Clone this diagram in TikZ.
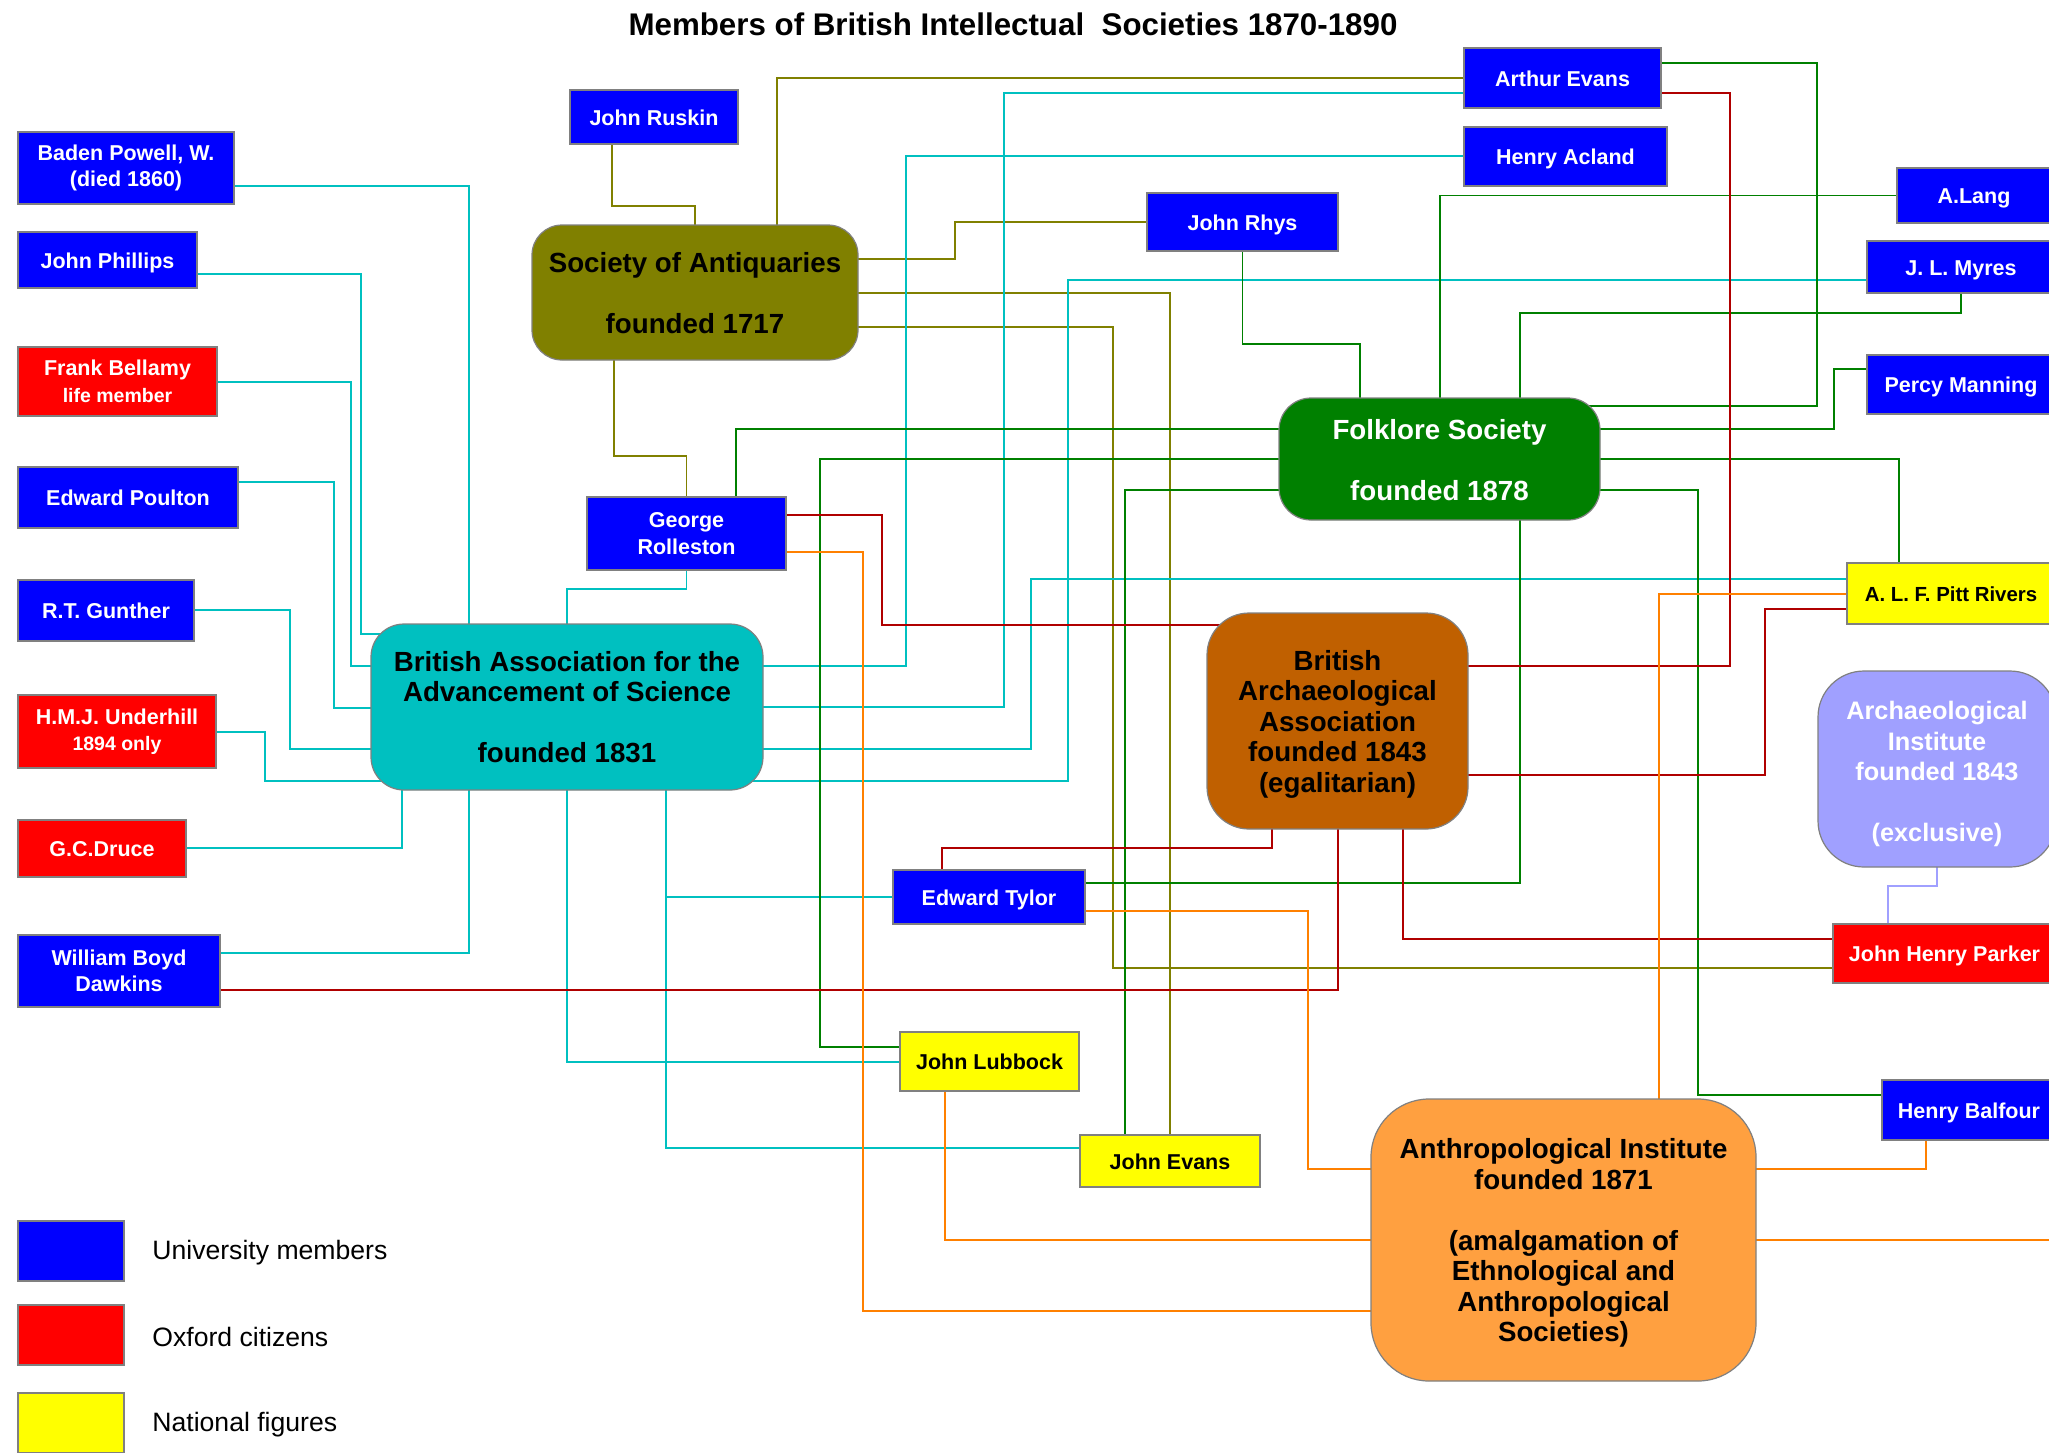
\documentclass[tikz,border=0pt]{standalone}
\usepackage{fontspec}
\setmainfont{Liberation Sans}
\usetikzlibrary{backgrounds}
\definecolor{cBlue}{RGB}{0,0,255}
\definecolor{cRed}{RGB}{255,0,0}
\definecolor{cYellow}{RGB}{255,255,0}
\definecolor{cCyan}{RGB}{0,192,192}
\definecolor{cOlive}{RGB}{128,128,0}
\definecolor{cGreen}{RGB}{0,128,0}
\definecolor{cBrown}{RGB}{192,96,0}
\definecolor{cOrange}{RGB}{255,160,64}
\definecolor{cPeri}{RGB}{160,160,255}
\definecolor{lCyan}{RGB}{0,192,192}
\definecolor{lOlive}{RGB}{128,128,0}
\definecolor{lGreen}{RGB}{0,128,0}
\definecolor{lRed}{RGB}{176,0,0}
\definecolor{lOrange}{RGB}{255,128,0}
\definecolor{lPeri}{RGB}{160,160,255}
\tikzset{
  pbox/.style={draw=gray, line width=0.6pt, inner sep=0pt, align=center,
    font=\bfseries\fontsize{10.75}{13.25}\selectfont, text=white},
  one/.style={text height=1em, text depth=0.2em},
  blu/.style={pbox, fill=cBlue},
  rd/.style={pbox, fill=cRed},
  yl/.style={pbox, fill=cYellow, text=black},
  socbox/.style={draw=gray, line width=0.6pt, inner sep=0pt},
  soctext/.style={inner sep=0pt, align=center,
    font=\bfseries\fontsize{13.85}{15.25}\selectfont},
  leg/.style={draw=gray, line width=0.6pt},
  legtext/.style={anchor=west, inner sep=0pt, font=\fontsize{13.3}{15}\selectfont},
  conn/.style={line width=0.8pt},
  cy/.style={conn, draw=lCyan},
  ol/.style={conn, draw=lOlive},
  gr/.style={conn, draw=lGreen},
  dr/.style={conn, draw=lRed},
  og/.style={conn, draw=lOrange},
  pe/.style={conn, draw=lPeri},
}
\newcommand\pnode[7]{\node[#6, minimum width={(#4-#2)*0.5pt}, minimum height={(#5-#3)*0.5pt}] (#1) at ({(#2+#4)/2},{(#3+#5)/2}) {#7};}
\newcommand\snode[8]{\node[socbox, #6, minimum width={(#4-#2)*0.5pt}, minimum height={(#5-#3)*0.5pt}] (#1) at ({(#2+#4)/2},{(#3+#5)/2}) {};
  \node[soctext, #7] (#1t) at (#1.center) {#8};}
\newcommand\sml[1]{{\fontsize{9.75}{12}\selectfont #1}}
\begin{document}
\begin{tikzpicture}[x=0.5pt,y=-0.5pt]
\useasboundingbox (0,0) rectangle (2049,1452);
% title
\node[font=\bfseries\fontsize{15.65}{18}\selectfont, inner sep=0pt] (title) at (1013,24) {Members of British Intellectual\ \ Societies 1870-1890};
% left column
\pnode{bp}{18}{132}{234}{204}{blu}{Baden Powell, W.\\(died 1860)}
\pnode{jp}{18}{232}{197}{288}{blu, one}{John Phillips}
\pnode{fb}{18}{347}{217}{416}{rd}{Frank Bellamy\\\sml{life member}}
\pnode{ep}{18}{467}{238}{528}{blu, one}{Edward Poulton}
\pnode{rg}{18}{580}{194}{641}{blu, one}{R.T. Gunther}
\pnode{hu}{18}{695}{216}{768}{rd}{H.M.J. Underhill\\\sml{1894 only}}
\pnode{gd}{18}{820}{186}{877}{rd, one}{G.C.Druce}
\pnode{wd}{18}{935}{220}{1007}{blu}{William Boyd\\Dawkins}
% legend
\pnode{l1}{18}{1221}{124}{1281}{leg, fill=cBlue}{}
\pnode{l2}{18}{1305}{124}{1365}{leg, fill=cRed}{}
\pnode{l3}{18}{1393}{124}{1453}{leg, fill=cYellow}{}
\node[legtext] (t1) at (152,1253) {University members};
\node[legtext] (t2) at (152,1337) {Oxford citizens};
\node[legtext] (t3) at (152,1425) {National figures};
% people
\pnode{ruskin}{570}{90}{738}{144}{blu, one}{John Ruskin}
\pnode{gro}{587}{497}{786}{570}{blu}{George\\Rolleston}
\pnode{tylor}{893}{870}{1085}{924}{blu, one}{Edward Tylor}
\pnode{lubbock}{900}{1032}{1079}{1091}{yl, one}{John Lubbock}
\pnode{jevans}{1080}{1135}{1260}{1187}{yl, one}{John Evans}
\pnode{hb}{1882}{1080}{2056}{1140}{blu, one}{Henry Balfour}
\pnode{pr}{1847}{563}{2055}{624}{yl, one, font=\bfseries\fontsize{10.2}{12}\selectfont}{A. L. F. Pitt Rivers}
\pnode{jhp}{1833}{924}{2056}{983}{rd, one}{John Henry Parker}
\pnode{aevans}{1464}{48}{1661}{108}{blu, one}{Arthur Evans}
\pnode{acland}{1464}{127}{1667}{186}{blu, one}{Henry Acland}
\pnode{rhys}{1147}{193}{1338}{251}{blu, one}{John Rhys}
\pnode{lang}{1897}{168}{2051}{223}{blu, one}{A.Lang}
\pnode{myres}{1867}{241}{2055}{293}{blu, one}{J. L. Myres}
\pnode{pm}{1867}{355}{2055}{414}{blu, one}{Percy Manning}
% societies
\snode{sa}{532}{225}{858}{360}{fill=cOlive, rounded corners=15pt}{yshift=-0.5pt}{Society of Antiquaries\\[15.25pt]founded 1717}
\snode{ba}{371}{624}{763}{790}{fill=cCyan, rounded corners=16.5pt}{}{British Association for the\\Advancement of Science\\[15.25pt]founded 1831}
\snode{fs}{1279}{398}{1600}{520}{fill=cGreen, rounded corners=16pt}{text=white, yshift=-0.5pt}{Folklore Society\\[15.25pt]founded 1878}
\snode{baa}{1207}{613}{1468}{829}{fill=cBrown, rounded corners=21pt}{yshift=-1.5pt}{British\\Archaeological\\Association\\founded 1843\\(egalitarian)}
\snode{arch}{1818}{671}{2056}{867}{fill=cPeri, rounded corners=23pt}{text=white, yshift=-2.5pt, font=\bfseries\fontsize{12.65}{15.25}\selectfont}{Archaeological\\Institute\\founded 1843\\[15.25pt](exclusive)}
\snode{ai}{1371}{1099}{1756}{1381}{fill=cOrange, rounded corners=29pt}{yshift=-1.5pt}{Anthropological Institute\\founded 1871\\[15.25pt](amalgamation of\\Ethnological and\\Anthropological\\Societies)}
\coordinate (edgeR) at (2060,1240);
\begin{pgfonlayer}{background}
\fill[white] (0,0) rectangle (2049,1452);
% olive
\draw[ol] (ruskin.south -| 612,0) -- (612,206) -| (sa.center);
\draw[ol] (sa.center -| 777,0) |- (aevans.west |- 0,78);
\draw[ol] (sa.center |- 0,259) -- (955,259) |- (rhys.west);
\draw[ol] (sa.center |- 0,293) -| (jevans.north);
\draw[ol] (sa.center |- 0,327) -| (1113,968) -- (jhp.west |- 0,968);
\draw[ol] (sa.center -| 614,0) |- (686,456) -| (gro.north);
% cyan
\draw[cy] (bp.east |- 0,186) -| (ba.center -| 469,0);
\draw[cy] (jp.east |- 0,274) -| (361,634) -- (ba.center |- 0,634);
\draw[cy] (fb.east |- 0,382) -| (351,666) -- (ba.center |- 0,666);
\draw[cy] (ep.east |- 0,482) -| (334,708) -- (ba.center |- 0,708);
\draw[cy] (rg.east |- 0,610) -| (290,749) -- (ba.center |- 0,749);
\draw[cy] (hu.east |- 0,732) -| (265,781) -- (ba.center |- 0,781);
\draw[cy] (gd.east |- 0,848) -| (ba.center -| 402,0);
\draw[cy] (wd.east |- 0,953) -| (ba.center -| 469,0);
\draw[cy] (gro.south) |- (567,589) -| (ba.center -| 567,0);
\draw[cy] (ba.center |- 0,666) -| (906,156) -- (acland.west |- 0,156);
\draw[cy] (ba.center |- 0,707) -| (1004,93) -- (aevans.west |- 0,93);
\draw[cy] (ba.center |- 0,749) -| (1031,579) -- (pr.west |- 0,579);
\draw[cy] (ba.center |- 0,781) -| (1068,280) -- (myres.west |- 0,280);
\draw[cy] (ba.center -| 567,0) |- (lubbock.west |- 0,1062);
\draw[cy] (ba.center -| 666,0) |- (tylor.west);
\draw[cy] (ba.center -| 666,0) |- (jevans.west |- 0,1148);
% green
\draw[gr] (rhys.south) |- (1360,344) -| (fs.center -| 1360,0);
\draw[gr] (fs.center -| 1440,0) |- (lang.west);
\draw[gr] (fs.center -| 1520,0) |- (1961,313) -- (myres.south);
\draw[gr] (fs.center |- 0,406) -| (1817,63) -- (aevans.east |- 0,63);
\draw[gr] (fs.center |- 0,429) -| (1834,369) -- (pm.west |- 0,369);
\draw[gr] (fs.center |- 0,459) -| (pr.north -| 1899,0);
\draw[gr] (fs.center |- 0,490) -| (1698,1095) -- (hb.west |- 0,1095);
\draw[gr] (fs.center |- 0,429) -| (gro.north -| 736,0);
\draw[gr] (fs.center |- 0,459) -| (820,1047) -- (lubbock.west |- 0,1047);
\draw[gr] (fs.center |- 0,490) -| (jevans.north -| 1125,0);
\draw[gr] (fs.center -| 1520,0) |- (tylor.east |- 0,883);
% dark red
\draw[dr] (gro.east |- 0,515) -| (882,625) -- (baa.center |- 0,625);
\draw[dr] (baa.center |- 0,666) -| (1730,93) -- (aevans.east |- 0,93);
\draw[dr] (baa.center |- 0,775) -| (1765,609) -- (pr.west |- 0,609);
\draw[dr] (baa.center -| 1272,0) |- (942,848) -- (tylor.north -| 942,0);
\draw[dr] (baa.center -| 1338,0) |- (wd.east |- 0,990);
\draw[dr] (baa.center -| 1403,0) |- (jhp.west |- 0,939);
% orange
\draw[og] (gro.east |- 0,552) -| (863,1311) -- (ai.center |- 0,1311);
\draw[og] (lubbock.south -| 945,0) |- (ai.center |- 0,1240);
\draw[og] (tylor.east |- 0,911) -| (1308,1169) -- (ai.center |- 0,1169);
\draw[og] (pr.west |- 0,594) -| (ai.center -| 1659,0);
\draw[og] (ai.center |- 0,1169) -| (hb.south -| 1926,0);
\draw[og] (ai.center |- 0,1240) -- (edgeR);
% periwinkle
\draw[pe] (arch.center -| 1937,0) |- (1888,886) -- (jhp.north -| 1888,0);
\end{pgfonlayer}
\end{tikzpicture}
\end{document}
